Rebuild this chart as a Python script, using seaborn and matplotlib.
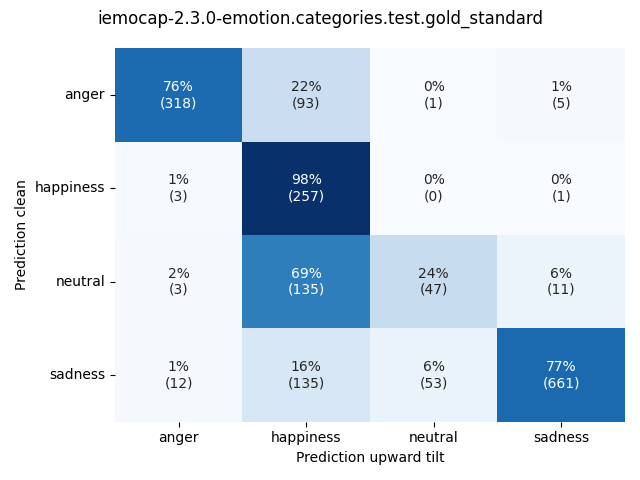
import numpy as np
import pandas as pd
import matplotlib.pyplot as plt
import seaborn as sns

labels = ["anger", "happiness", "neutral", "sadness"]
counts_anger = [318, 93, 1, 5]
counts_happiness = [3, 257, 0, 1]
counts_neutral = [3, 135, 47, 11]
counts_sadness = [12, 135, 53, 661]

counts = np.array([counts_anger, counts_happiness, counts_neutral, counts_sadness])
perc = counts / counts.sum(axis=1, keepdims=True) * 100
df = pd.DataFrame(perc, index=labels, columns=labels)

annot = np.array([[f"{perc[i, j]:.0f}%\n({counts[i, j]})" for j in range(4)]
                  for i in range(4)])

fig, ax = plt.subplots(figsize=(6.4, 4.8), dpi=100)
sns.heatmap(df, annot=annot, fmt="", cmap="Blues", cbar=False, ax=ax,
            vmin=0, vmax=perc.max())
ax.set_xlabel("Prediction upward tilt")
ax.set_ylabel("Prediction clean")
ax.tick_params(axis="y", rotation=0)
fig.suptitle("iemocap-2.3.0-emotion.categories.test.gold_standard")
fig.tight_layout()
fig.savefig("out.png")
